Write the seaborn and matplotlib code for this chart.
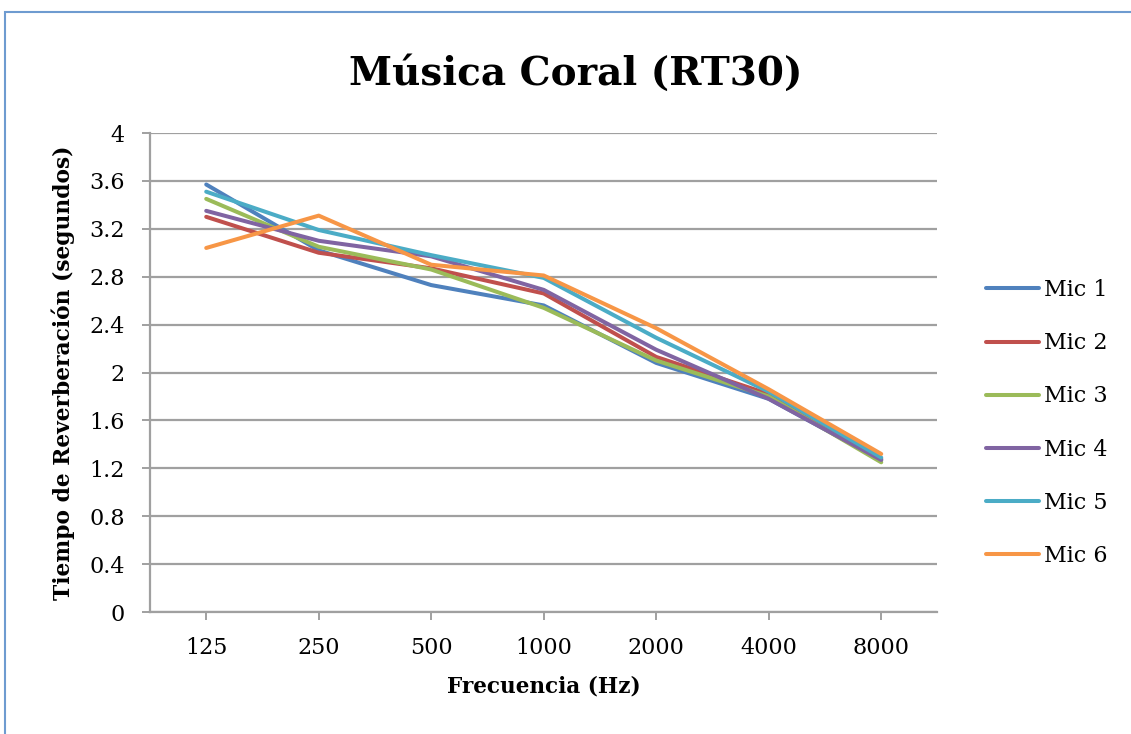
import matplotlib
matplotlib.use("Agg")
import matplotlib.pyplot as plt
from matplotlib.patches import Rectangle
import seaborn as sns
import pandas as pd

# Frecuencias de banda de octava (Hz) y tiempos RT30 por micrófono (s)
frecuencias = ["125", "250", "500", "1000", "2000", "4000", "8000"]
mic1 = [3.57, 3.02, 2.73, 2.56, 2.08, 1.78, 1.27]
mic2 = [3.30, 3.00, 2.87, 2.66, 2.13, 1.82, 1.28]
mic3 = [3.45, 3.05, 2.86, 2.54, 2.10, 1.80, 1.25]
mic4 = [3.35, 3.10, 2.97, 2.69, 2.19, 1.78, 1.27]
mic5 = [3.51, 3.19, 2.98, 2.79, 2.29, 1.84, 1.29]
mic6 = [3.04, 3.31, 2.90, 2.81, 2.37, 1.86, 1.32]
microfonos = ["Mic 1", "Mic 2", "Mic 3", "Mic 4", "Mic 5", "Mic 6"]
colores = ["#4F81BD", "#C0504D", "#9BBB59", "#8064A2", "#4BACC6", "#F79646"]
y_ticks = [0, 0.4, 0.8, 1.2, 1.6, 2, 2.4, 2.8, 3.2, 3.6, 4]

series = [mic1, mic2, mic3, mic4, mic5, mic6]
df = pd.DataFrame(
    [(f, v, m) for m, vals in zip(microfonos, series) for f, v in zip(frecuencias, vals)],
    columns=["Frecuencia", "RT30", "Mic"],
)

sns.set_theme(style="white")
plt.rcParams["font.family"] = ["DejaVu Serif"]
plt.rcParams["text.color"] = "black"
plt.rcParams["axes.labelcolor"] = "black"

grid_col = "#a0a0a0"
fig = plt.figure(figsize=(11.31, 7.34), dpi=100)
ax = fig.add_axes([0.1326, 0.1662, 0.6963, 0.6526])

sns.lineplot(
    data=df, x="Frecuencia", y="RT30", hue="Mic", palette=colores,
    sort=False, linewidth=2.9, ax=ax, legend=True,
)

ax.set_xlim(-0.5, len(frecuencias) - 0.5)
ax.set_ylim(0, 4)
ax.set_yticks(y_ticks)
ax.set_yticklabels([f"{t:g}" for t in y_ticks])
ax.yaxis.grid(True, color=grid_col, linewidth=1.6)
ax.xaxis.grid(False)
ax.set_axisbelow(True)

for side in ("top", "right"):
    ax.spines[side].set_visible(False)
for side in ("left", "bottom"):
    ax.spines[side].set_color(grid_col)
    ax.spines[side].set_linewidth(1.6)

ax.tick_params(axis="both", which="major", direction="out", length=6,
               width=1.4, color=grid_col, labelsize=16, labelcolor="black",
               bottom=True, left=True)
ax.tick_params(axis="y", pad=12)
ax.tick_params(axis="x", pad=12)

ax.set_xlabel("Frecuencia (Hz)", fontsize=15.5, fontweight="bold", labelpad=12)
ax.set_ylabel("Tiempo de Reverberación (segundos)", fontsize=15.7,
              fontweight="bold", labelpad=10)

fig.text(0.509, 0.90, "Música Coral (RT30)", ha="center", va="center",
         fontsize=28, fontweight="bold", color="black")

handles, labels = ax.get_legend_handles_labels()
ax.legend(handles, labels, loc="center left", bbox_to_anchor=(0.862, 0.4237),
          bbox_transform=fig.transFigure, frameon=False, fontsize=16,
          handlelength=2.4, handletextpad=0.2, labelspacing=1.4, borderpad=0)

# Marco exterior del gráfico
fig.patches.append(Rectangle((4.5 / 1131, -0.05), 1.2, 1 - 12 / 734 + 0.05,
                             transform=fig.transFigure, fill=False,
                             edgecolor="#6e9bd0", linewidth=1.5, zorder=0))

fig.savefig("out.png", dpi=100)
